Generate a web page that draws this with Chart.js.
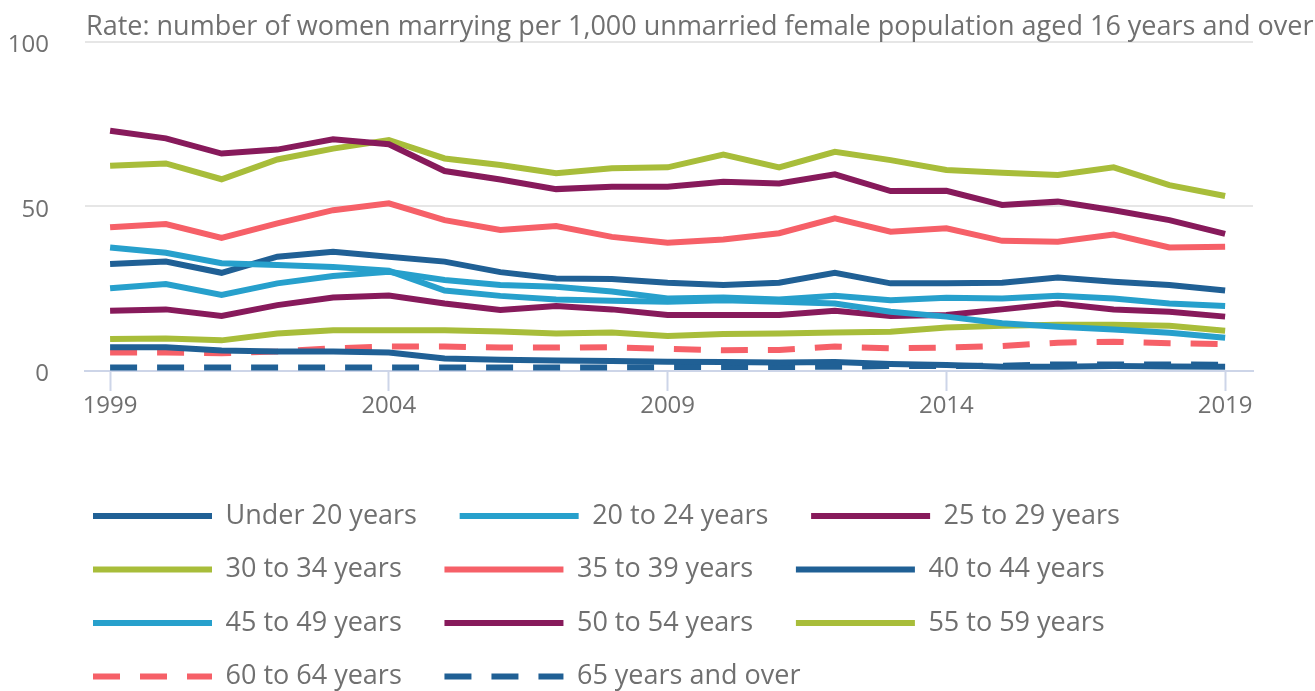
<!DOCTYPE html>
<html>
<head>
<meta charset="utf-8">
<title>Marriage rates by age, women</title>
<script src="https://cdn.jsdelivr.net/npm/chart.js@4.4.1/dist/chart.umd.min.js"></script>
<style>
  html, body { margin: 0; padding: 0; background: #ffffff; overflow: hidden; }
  #wrap { width: 1315px; height: 691px; position: relative; }
</style>
</head>
<body>
<div id="wrap"><canvas id="marriage_rates"></canvas></div>
<script>
'use strict';

// Data
// --------------------------------------------------------------------
const years = [1999, 2000, 2001, 2002, 2003, 2004, 2005, 2006, 2007, 2008, 2009,
  2010, 2011, 2012, 2013, 2014, 2015, 2016, 2017, 2018, 2019];
const xTicks = [1999, 2004, 2009, 2014, 2019];
const yTicks = [0, 50, 100];
const titleText = 'Rate: number of women marrying per 1,000 unmarried female population aged 16 years and over';

const seriesNames = ['Under 20 years', '20 to 24 years', '25 to 29 years', '30 to 34 years',
  '35 to 39 years', '40 to 44 years', '45 to 49 years', '50 to 54 years', '55 to 59 years',
  '60 to 64 years', '65 years and over'];

const under20 = [7.2, 7.2, 6.2, 5.9, 5.9, 5.6, 3.8, 3.4, 3.2, 3.0, 2.8, 2.7, 2.6, 2.7, 2.1, 1.8, 1.3, 1.3, 1.5, 1.4, 1.3];
const age20to24 = [37.5, 35.9, 32.7, 32.2, 31.6, 30.4, 24.4, 22.8, 21.7, 21.3, 21.0, 21.5, 21.0, 20.5, 18.0, 16.5, 14.5, 13.4, 12.6, 11.6, 10.1];
const age25to29 = [72.9, 70.6, 66.0, 67.2, 70.3, 68.8, 60.7, 58.1, 55.2, 55.9, 55.9, 57.4, 56.9, 59.7, 54.6, 54.7, 50.4, 51.4, 48.8, 45.8, 41.6];
const age30to34 = [62.3, 63.0, 58.2, 64.2, 67.5, 70.1, 64.5, 62.5, 60.0, 61.5, 61.8, 65.7, 61.8, 66.5, 64.0, 61.0, 60.2, 59.5, 61.8, 56.4, 53.1];
const age35to39 = [43.6, 44.6, 40.4, 44.8, 48.8, 50.9, 45.8, 42.8, 44.0, 40.7, 38.9, 39.9, 41.8, 46.3, 42.3, 43.3, 39.5, 39.2, 41.4, 37.5, 37.7];
const age40to44 = [32.5, 33.2, 29.8, 34.7, 36.2, 34.7, 33.2, 30.0, 28.1, 27.9, 26.8, 26.1, 26.8, 29.8, 26.6, 26.6, 26.8, 28.4, 27.1, 26.1, 24.4];
const age45to49 = [25.1, 26.4, 23.1, 26.6, 28.8, 30.1, 27.6, 26.1, 25.6, 24.1, 22.0, 22.3, 21.7, 22.8, 21.5, 22.2, 22.0, 22.8, 22.0, 20.5, 19.7];
const age50to54 = [18.3, 18.7, 16.7, 20.0, 22.3, 22.9, 20.5, 18.5, 19.7, 18.7, 17.0, 17.0, 17.0, 18.3, 16.7, 17.0, 18.7, 20.5, 18.7, 18.0, 16.5];
const age55to59 = [9.7, 9.9, 9.3, 11.4, 12.4, 12.4, 12.4, 12.0, 11.4, 11.7, 10.6, 11.2, 11.4, 11.7, 11.9, 13.2, 13.7, 14.0, 14.0, 13.7, 12.2];
const age60to64 = [5.6, 5.6, 5.4, 5.9, 6.9, 7.4, 7.4, 7.1, 7.1, 7.2, 6.7, 6.3, 6.4, 7.4, 6.9, 7.1, 7.6, 8.6, 8.9, 8.4, 8.2];
const age65plus = [1.1, 1.1, 1.1, 1.1, 1.1, 1.1, 1.1, 1.1, 1.1, 1.1, 1.2, 1.2, 1.2, 1.3, 1.5, 1.5, 1.6, 2.0, 2.0, 2.0, 1.9];

(function () {
  // Color Variables
  const darkBlueColor = '#206095',
    lightBlueColor = '#27a0cc',
    purpleColor = '#871a5b',
    greenColor = '#a8bd3a',
    coralColor = '#f66068',
    textColor = '#707070',
    gridColor = '#e6e6e6',
    axisColor = '#cdd5e8';

  const fontFamily = "'Open Sans', sans-serif";
  const dashPattern = [27, 20];

  function makeSeries(label, values, color, dashed) {
    return {
      label: label,
      data: values.map(function (v, i) {
        return { x: years[i], y: v };
      }),
      borderColor: color,
      backgroundColor: color,
      borderWidth: 6,
      borderDash: dashed ? dashPattern : [],
      borderCapStyle: 'butt',
      pointRadius: 0,
      pointHoverRadius: 0,
      tension: 0,
      fill: false
    };
  }

  // Title line above the plot, starts at the plot's left edge
  const rateTitle = {
    id: 'rateTitle',
    afterDraw: function (chart) {
      const ctx = chart.ctx;
      ctx.save();
      ctx.font = '27px ' + fontFamily;
      ctx.fillStyle = textColor;
      ctx.textAlign = 'left';
      ctx.textBaseline = 'alphabetic';
      ctx.fillText(titleText, chart.chartArea.left + 1, 35);
      ctx.restore();
    }
  };

  // Legend: indent it under the plot and trim its reserved height a little
  const legendTweak = {
    id: 'legendTweak',
    beforeInit: function (chart) {
      const legend = chart.legend;
      if (legend) {
        const originalFit = legend.fit;
        legend.fit = function () {
          originalFit.call(this);
          this.height -= 9;
        };
      }
    },
    afterLayout: function (chart) {
      if (chart.legend) {
        chart.legend.left = 66.5;
      }
    }
  };

  const marriage_rates = document.getElementById('marriage_rates');
  if (marriage_rates) {
    const marriage_rates_Var = new Chart(marriage_rates, {
      type: 'line',
      data: {
        datasets: [
          makeSeries(seriesNames[0], under20, darkBlueColor, false),
          makeSeries(seriesNames[1], age20to24, lightBlueColor, false),
          makeSeries(seriesNames[2], age25to29, purpleColor, false),
          makeSeries(seriesNames[3], age30to34, greenColor, false),
          makeSeries(seriesNames[4], age35to39, coralColor, false),
          makeSeries(seriesNames[5], age40to44, darkBlueColor, false),
          makeSeries(seriesNames[6], age45to49, lightBlueColor, false),
          makeSeries(seriesNames[7], age50to54, purpleColor, false),
          makeSeries(seriesNames[8], age55to59, greenColor, false),
          makeSeries(seriesNames[9], age60to64, coralColor, true),
          makeSeries(seriesNames[10], age65plus, darkBlueColor, true)
        ]
      },
      plugins: [rateTitle, legendTweak],
      options: {
        responsive: true,
        maintainAspectRatio: false,
        animation: false,
        layout: {
          padding: { top: 41.5, right: 62, bottom: 0, left: 0 }
        },
        plugins: {
          tooltip: {
            enabled: false
          },
          legend: {
            position: 'bottom',
            align: 'start',
            labels: {
              usePointStyle: true,
              pointStyle: 'line',
              pointStyleWidth: 119,
              padding: 26.5,
              color: textColor,
              font: { family: fontFamily, size: 27 },
              generateLabels: function (chart) {
                const items = Chart.defaults.plugins.legend.labels.generateLabels(chart);
                items.forEach(function (item) {
                  const ds = chart.data.datasets[item.datasetIndex];
                  item.text = item.text + '\u2002\u200A';
                  item.strokeStyle = ds.borderColor;
                  item.lineWidth = ds.borderWidth;
                  item.lineDash = ds.borderDash;
                  item.lineCap = 'butt';
                });
                return items;
              }
            }
          }
        },
        scales: {
          x: {
            type: 'linear',
            min: 1998.55,
            max: 2019.5,
            afterBuildTicks: function (axis) {
              axis.ticks = xTicks.map(function (v) {
                return { value: v };
              });
            },
            afterFit: function (axis) {
              axis.height = 105;
            },
            border: {
              display: true,
              color: axisColor,
              width: 2
            },
            grid: {
              drawOnChartArea: false,
              drawTicks: true,
              tickLength: 20,
              tickWidth: 2,
              tickColor: axisColor
            },
            ticks: {
              padding: 1,
              maxRotation: 0,
              color: textColor,
              font: { family: fontFamily, size: 24 },
              callback: function (value) {
                return String(value);
              }
            }
          },
          y: {
            min: 0,
            max: 100,
            afterBuildTicks: function (axis) {
              axis.ticks = yTicks.map(function (v) {
                return { value: v };
              });
            },
            afterFit: function (axis) {
              axis.width = 85;
            },
            border: {
              display: false
            },
            grid: {
              drawTicks: true,
              tickLength: 9,
              tickColor: 'rgba(0,0,0,0)',
              lineWidth: 2,
              color: function (context) {
                return context.tick && context.tick.value === 0 ? 'rgba(0,0,0,0)' : gridColor;
              }
            },
            ticks: {
              padding: 27,
              labelOffset: 3.5,
              color: textColor,
              font: { family: fontFamily, size: 24 }
            }
          }
        }
      }
    });
  }
})();
</script>
</body>
</html>
